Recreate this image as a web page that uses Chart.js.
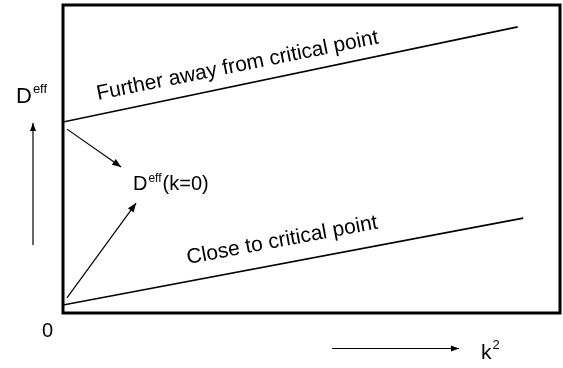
<!DOCTYPE html>
<html>
<head>
<meta charset="utf-8">
<script src="https://cdn.jsdelivr.net/npm/chart.js@4/dist/chart.umd.min.js"></script>
<style>
  html, body { margin: 0; padding: 0; background: #fff; }
  #wrap { width: 563px; height: 368px; }
</style>
</head>
<body>
<div id="wrap"><canvas id="deffChart" width="563" height="368"></canvas></div>
<script>
// k^2 positions (arbitrary units, 0..1)
const k2Values = [0, 0.915];
const k2ValuesClose = [0, 0.926];

// D_eff along each line
const deffFar = [0.62, 0.929];
const deffClose = [0.026, 0.308];

// pointer arrows to D_eff(k=0): [start, end]
const arrowFarX = [0.008, 0.117];
const arrowFarY = [0.597, 0.474];
const arrowCloseX = [0.008, 0.147];
const arrowCloseY = [0.049, 0.357];

const lineLabels = ['Further away from critical point', 'Close to critical point'];

const toPoints = (xs, ys) => xs.map((x, i) => ({ x: x, y: ys[i] }));

const FONT = '"Liberation Sans", Arial, Helvetica, sans-serif';

function arrowHead(ctx, x1, y1, x2, y2, len, half) {
  const a = Math.atan2(y2 - y1, x2 - x1);
  ctx.beginPath();
  ctx.moveTo(x2, y2);
  ctx.lineTo(x2 - len * Math.cos(a) + half * Math.sin(a), y2 - len * Math.sin(a) - half * Math.cos(a));
  ctx.lineTo(x2 - len * Math.cos(a) - half * Math.sin(a), y2 - len * Math.sin(a) + half * Math.cos(a));
  ctx.closePath();
  ctx.fill();
}

function arrow(ctx, x1, y1, x2, y2) {
  ctx.beginPath();
  ctx.moveTo(x1, y1);
  ctx.lineTo(x2, y2);
  ctx.stroke();
  arrowHead(ctx, x1, y1, x2, y2, 8, 3);
}

// text with a superscript part, e.g. D^eff
function supText(ctx, x, y, base, sup, size, supSize, rise) {
  ctx.font = size + 'px ' + FONT;
  ctx.fillText(base, x, y);
  const w = ctx.measureText(base).width;
  ctx.font = supSize + 'px ' + FONT;
  ctx.fillText(sup, x + w + 1, y - rise);
  return x + w + 1 + ctx.measureText(sup).width;
}

const sketchPlugin = {
  id: 'sketch',
  afterDatasetsDraw(chart) {
    const ctx = chart.ctx;
    const a = chart.chartArea;
    const xs = chart.scales.x, ys = chart.scales.y;
    ctx.save();
    ctx.fillStyle = '#000';
    ctx.strokeStyle = '#000';

    // arrowheads at the end of arrow datasets
    chart.data.datasets.forEach((ds, i) => {
      if (!ds.arrow) return;
      const pts = chart.getDatasetMeta(i).data;
      const p0 = pts[pts.length - 2], p1 = pts[pts.length - 1];
      arrowHead(ctx, p0.x, p0.y, p1.x, p1.y, 9, 3.5);
    });

    // frame
    ctx.lineWidth = 3;
    ctx.strokeRect(a.left, a.top, a.right - a.left, a.bottom - a.top);

    // rotated line labels
    ctx.textBaseline = 'alphabetic';
    ctx.textAlign = 'left';
    ctx.font = '21px ' + FONT;
    ctx.save();
    ctx.translate(xs.getPixelForValue(0.0704), ys.getPixelForValue(0.6916));
    ctx.rotate(-11.4 * Math.PI / 180);
    ctx.fillText(lineLabels[0], 0, 0);
    ctx.restore();
    ctx.save();
    ctx.translate(xs.getPixelForValue(0.2515), ys.getPixelForValue(0.159));
    ctx.rotate(-10.6 * Math.PI / 180);
    ctx.fillText(lineLabels[1], 0, 0);
    ctx.restore();

    // D^eff(k=0)
    const lx = xs.getPixelForValue(0.1408), ly = ys.getPixelForValue(0.399);
    const after = supText(ctx, lx, ly, 'D', 'eff', 20, 12, 8);
    ctx.font = '20px ' + FONT;
    ctx.fillText('(k=0)', after + 1, ly);

    // axis captions outside the frame
    supText(ctx, a.left - 47, 103, 'D', 'eff', 22, 13, 10);
    ctx.font = '20px ' + FONT;
    ctx.fillText('0', a.left - 21, 337);
    supText(ctx, 481, 359, 'k', '2', 21, 13, 10);

    ctx.lineWidth = 1.2;
    arrow(ctx, 33, 245, 33, 123);
    arrow(ctx, 332, 348.5, 459, 348.5);

    ctx.restore();
  }
};

const lineStyle = { borderColor: '#000', borderWidth: 1.6, pointRadius: 0, showLine: true, fill: false, tension: 0 };
const arrowStyle = { borderColor: '#000', borderWidth: 1.2, pointRadius: 0, showLine: true, fill: false, tension: 0, arrow: true };

new Chart(document.getElementById('deffChart'), {
  type: 'scatter',
  data: {
    datasets: [
      Object.assign({ label: lineLabels[0], data: toPoints(k2Values, deffFar) }, lineStyle),
      Object.assign({ label: lineLabels[1], data: toPoints(k2ValuesClose, deffClose) }, lineStyle),
      Object.assign({ label: 'far', data: toPoints(arrowFarX, arrowFarY) }, arrowStyle),
      Object.assign({ label: 'close', data: toPoints(arrowCloseX, arrowCloseY) }, arrowStyle)
    ]
  },
  options: {
    responsive: false,
    animation: false,
    layout: { padding: { left: 63, right: 3, top: 5, bottom: 55 } },
    plugins: { legend: { display: false }, tooltip: { enabled: false } },
    scales: {
      x: { type: 'linear', min: 0, max: 1, display: false },
      y: { type: 'linear', min: 0, max: 1, display: false }
    }
  },
  plugins: [sketchPlugin]
});
</script>
</body>
</html>
